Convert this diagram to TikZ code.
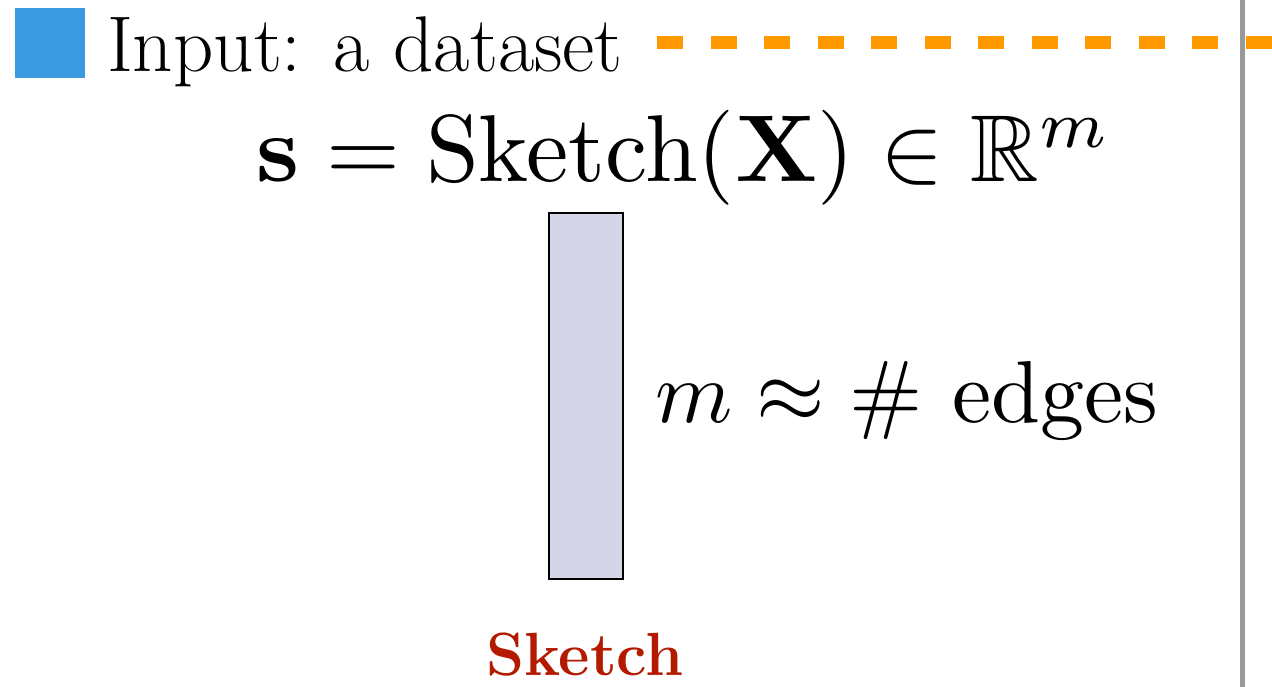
\documentclass[tikz,border=0pt]{standalone}
\usepackage{graphicx}
\usepackage{amssymb}
\definecolor{sqblue}{HTML}{3A9BE0}
\definecolor{dashorange}{HTML}{FF9900}
\definecolor{sepgray}{HTML}{999999}
\definecolor{barfill}{HTML}{D5D5E8}
\definecolor{sketchred}{HTML}{B31A00}
\tikzset{
  txt/.style={inner sep=0pt, outer sep=0pt, text=black},
}
\begin{document}
\begin{tikzpicture}[x=1pt,y=-1pt]
\useasboundingbox (0,0) rectangle (1272,687);
% bullet square
\node[fill=sqblue, minimum width=70pt, minimum height=70pt, inner sep=0pt, anchor=north west] (bullet) at (15,8) {};
\node[txt, anchor=base west, font=\fontsize{79}{86}\selectfont] (input) at (107,72) {Input: a dataset};
\coordinate (dashstart) at (657,43);
\coordinate (dashend) at (1272,43);
\draw[dashorange, line width=13pt, dash pattern=on 26pt off 27.5pt] (dashstart) -- (dashend);
% separator
\coordinate (septop) at (1242,0);
\coordinate (sepbot) at (1242,687);
\draw[sepgray, line width=5pt] (septop) -- (sepbot);
% formula
\node[txt, anchor=base] (formula) at (684,182) {\scalebox{9.5}{$\mathbf{s}=\mathrm{Sketch}(\mathbf{X})\in\mathbb{R}^m$}};
% sketch bar
\node[draw=black, line width=2pt, fill=barfill, minimum width=74pt, minimum height=366pt, inner sep=0pt, anchor=north west] (bar) at (548,212) {};
\node[txt, anchor=base west] (mlabel) at (655,422) {\scalebox{8.8}{$m\approx\#$ edges}};
\node[txt, anchor=base, text=sketchred, font=\fontsize{61}{70}\selectfont\bfseries] (sketchlabel) at (585,675) {Sketch};
\end{tikzpicture}
\end{document}
